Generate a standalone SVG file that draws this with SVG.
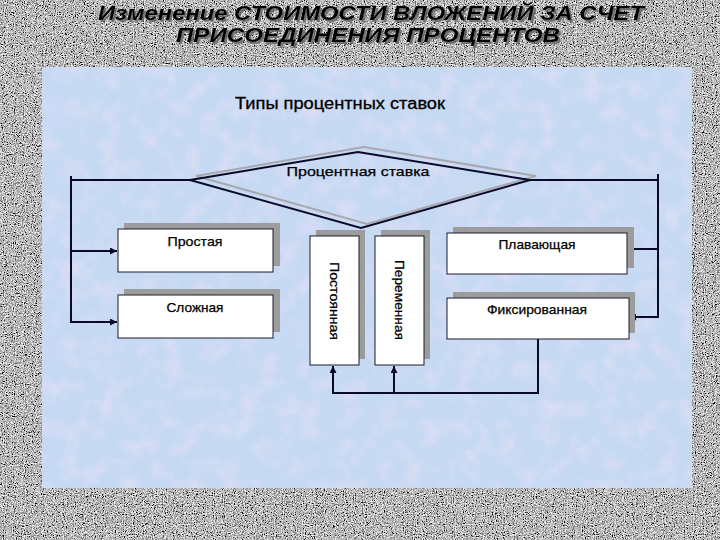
<svg xmlns="http://www.w3.org/2000/svg" width="720" height="540" viewBox="0 0 720 540">
<defs>
<filter id="noise" x="0" y="0" width="100%" height="100%">
<feTurbulence type="fractalNoise" baseFrequency="0.9" numOctaves="2" seed="3" result="t"/>
<feColorMatrix in="t" type="matrix" values="0.33 0.33 0.33 0 0  0.33 0.33 0.33 0 0  0.33 0.33 0.33 0 0  0 0 0 0 1" result="g"/>
<feComponentTransfer in="g">
<feFuncR type="linear" slope="3.6" intercept="-1.3"/>
<feFuncG type="linear" slope="3.6" intercept="-1.3"/>
<feFuncB type="linear" slope="3.6" intercept="-1.3"/>
</feComponentTransfer>
</filter>
<filter id="mottle" x="0" y="0" width="100%" height="100%">
<feTurbulence type="fractalNoise" baseFrequency="0.05" numOctaves="3" seed="7" result="t"/>
<feColorMatrix in="t" type="matrix" values="0 0 0 0 0.93  0 0 0 0 0.78  0 0 0 0 0.93  1.8 0 0 0 -0.8"/>
</filter>
<filter id="tshadow" x="-5%" y="-20%" width="110%" height="140%">
<feDropShadow dx="2" dy="2" stdDeviation="0.6" flood-color="#606060" flood-opacity="0.8"/>
</filter>
<marker id="arr" viewBox="0 0 10 10" refX="10" refY="5" markerWidth="7" markerHeight="7" markerUnits="userSpaceOnUse" orient="auto">
<path d="M0,0 L10,5 L0,10 z" fill="#0a0a28"/>
</marker>
<style>
.box{fill:#ffffff;stroke:#1a1a2a;stroke-width:1}
.shd{fill:#9c9c9c}
.lbl{font-family:"Liberation Sans",Arial,sans-serif;font-size:13px;fill:#000;stroke:#000;stroke-width:0.25}
.con{fill:none;stroke:#0a0a28;stroke-width:2}
.arrow{marker-end:url(#arr)}
</style>
</defs>
<rect x="0" y="0" width="720" height="540" fill="#8c8c8c"/>
<rect x="0" y="0" width="720" height="540" filter="url(#noise)"/>
<rect x="42" y="67" width="650" height="421" fill="#c6d9f3"/>
<rect x="42" y="67" width="650" height="421" filter="url(#mottle)" opacity="0.55"/>

<g id="title" filter="url(#tshadow)" font-family="'Liberation Sans',Arial,sans-serif" font-style="italic" font-weight="bold" font-size="21" fill="#000" text-anchor="middle">
<text x="371" y="20" textLength="546" lengthAdjust="spacingAndGlyphs">Изменение СТОИМОСТИ ВЛОЖЕНИЙ ЗА СЧЕТ</text>
<text x="368" y="42" textLength="384" lengthAdjust="spacingAndGlyphs">ПРИСОЕДИНЕНИЯ ПРОЦЕНТОВ</text>
</g>

<g id="heading">
<text x="340" y="109" font-family="'Liberation Sans',Arial,sans-serif" font-size="16" fill="#000" stroke="#000" stroke-width="0.3" text-anchor="middle" textLength="210" lengthAdjust="spacingAndGlyphs">Типы процентных ставок</text>
</g>

<g id="connectors">
<path class="con" d="M190,180 H71"/>
<path class="con arrow" d="M71,176 V322 H117"/>
<path class="con arrow" d="M71,251 H117"/>
<path class="con" d="M530,180 H658"/>
<path class="con arrow" d="M658,174 V317 H629"/>
<path class="con arrow" d="M658,249 H627"/>
<path class="con arrow" d="M538,339 V393 H333 V366"/>
<path class="con arrow" d="M394,393 V366"/>
</g>

<g id="rate">
<polygon points="196,176 364,147 536,176 367,224" fill="none" stroke="#a8a8b0" stroke-width="2"/>
<polygon points="190,180 358,152 530,180 361,228" fill="none" stroke="#0a0a28" stroke-width="2"/>
<text x="358" y="176" class="lbl" font-size="14" text-anchor="middle" textLength="143" lengthAdjust="spacingAndGlyphs">Процентная ставка</text>
</g>

<g id="simple">
<rect class="shd" x="124" y="223" width="156" height="43"/>
<rect class="box" x="118" y="229" width="155" height="43"/>
<text class="lbl" x="195" y="246" text-anchor="middle" textLength="55" lengthAdjust="spacingAndGlyphs">Простая</text>
</g>

<g id="compound">
<rect class="shd" x="124" y="289" width="156" height="43"/>
<rect class="box" x="118" y="295" width="155" height="43"/>
<text class="lbl" x="195" y="312" text-anchor="middle" textLength="57" lengthAdjust="spacingAndGlyphs">Сложная</text>
</g>

<g id="constant">
<rect class="shd" x="316" y="230" width="49" height="129"/>
<rect class="box" x="310" y="236" width="49" height="129"/>
<text class="lbl" transform="translate(330,301) rotate(90)" x="0" y="0" text-anchor="middle" textLength="78" lengthAdjust="spacingAndGlyphs">Постоянная</text>
</g>

<g id="variable">
<rect class="shd" x="381" y="230" width="49" height="129"/>
<rect class="box" x="375" y="236" width="49" height="129"/>
<text class="lbl" transform="translate(395,300) rotate(90)" x="0" y="0" text-anchor="middle" textLength="80" lengthAdjust="spacingAndGlyphs">Переменная</text>
</g>

<g id="floating">
<rect class="shd" x="453" y="227" width="181" height="41"/>
<rect class="box" x="447" y="233" width="180" height="41"/>
<text class="lbl" x="537" y="249" text-anchor="middle" textLength="77" lengthAdjust="spacingAndGlyphs">Плавающая</text>
</g>

<g id="fixed">
<rect class="shd" x="453" y="292" width="182" height="41"/>
<rect class="box" x="447" y="298" width="182" height="41"/>
<text class="lbl" x="537" y="314" text-anchor="middle" textLength="100" lengthAdjust="spacingAndGlyphs">Фиксированная</text>
</g>
</svg>
